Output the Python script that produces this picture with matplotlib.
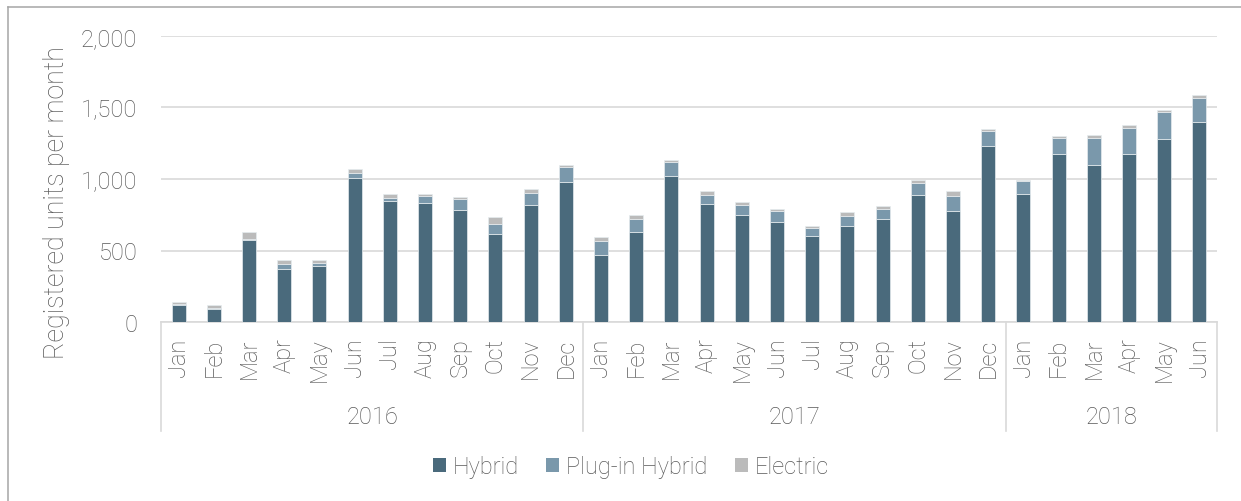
import matplotlib
matplotlib.use("Agg")
import matplotlib.pyplot as plt
from matplotlib.lines import Line2D
from matplotlib.patches import Patch
from matplotlib.transforms import blended_transform_factory
import numpy as np

plt.rcParams['font.family'] = ['Roboto', 'DejaVu Sans']

years = ["2016", "2017", "2018"]
months_per_year = [12, 12, 6]
month_names = ["Jan", "Feb", "Mar", "Apr", "May", "Jun",
               "Jul", "Aug", "Sep", "Oct", "Nov", "Dec"]
months = month_names * 2 + month_names[:6]

hybrid = [120, 93, 573, 373, 391, 1006, 845, 829, 782, 615, 817, 978,
          468, 629, 1022, 827, 745, 698, 601, 671, 719, 889, 775, 1229,
          896, 1173, 1101, 1173, 1280, 1397]
plugin = [8, 8, 9, 32, 21, 35, 23, 49, 77, 69, 86, 105,
          98, 91, 96, 60, 75, 75, 53, 67, 70, 82, 105, 110,
          89, 114, 184, 182, 187, 168]
electric = [10, 18, 47, 28, 21, 28, 26, 14, 14, 47, 24, 18,
            25, 25, 18, 26, 20, 14, 14, 28, 21, 19, 33, 9,
            9, 17, 23, 23, 18, 23]

series_names = ["Hybrid", "Plug-in Hybrid", "Electric"]
colors = ["#4A6A7C", "#7A98AB", "#BBBBBB"]
text_color = "#595959"
grid_color = "#D9D9D9"
fs = 17

W, H = 1241, 502
fig = plt.figure(figsize=(W / 100, H / 100), dpi=100)
ax = fig.add_axes([161 / W, (H - 323) / H, (1217 - 161) / W, (323 - 37) / H])

x = np.arange(len(months))
bottom = np.zeros(len(months))
for vals, c, name in zip([hybrid, plugin, electric], colors, series_names):
    ax.bar(x, vals, width=0.4, bottom=bottom, color=c, edgecolor="#E6ECEF",
           linewidth=0.5, label=name, zorder=3)
    bottom += np.array(vals)

ax.set_xlim(-0.5, len(months) - 0.5)
ax.set_ylim(0, 2000)
ax.set_yticks([0, 500, 1000, 1500, 2000])
ax.set_yticklabels([f"{v:,}" for v in [0, 500, 1000, 1500, 2000]])
ax.yaxis.grid(True, color=grid_color, linewidth=1.2, zorder=0)
ax.set_axisbelow(True)
for s in ["top", "right", "left"]:
    ax.spines[s].set_visible(False)
ax.spines["bottom"].set_color(grid_color)
ax.spines["bottom"].set_linewidth(1.2)
ax.tick_params(axis="y", length=0, pad=17, labelsize=fs, labelcolor=text_color)
ax.set_xticks(x)
ax.set_xticklabels(months, rotation=90, fontsize=fs, color=text_color,
                   fontweight="light", va="top")
for t in ax.get_yticklabels():
    t.set_fontweight("light")
ax.tick_params(axis="x", length=0, pad=11)

# multi-level category separators and year labels
trans = blended_transform_factory(ax.transData, ax.transAxes)
edges = np.concatenate([[0], np.cumsum(months_per_year)]) - 0.5
for e in edges:
    ax.add_line(Line2D([e, e], [0, -0.381], transform=trans, color=grid_color,
                       linewidth=1.2, clip_on=False))
trans_fig = blended_transform_factory(ax.transData, fig.transFigure)
for i, yr in enumerate(years):
    cx = (edges[i] + edges[i + 1]) / 2
    ax.text(cx, (H - 424) / H, yr, transform=trans_fig, ha="center",
            va="baseline", fontsize=fs, color=text_color, fontweight="light")

fig.text(57 / W, 1 - 203 / H, "Registered units per month", rotation=90,
         ha="center", va="center", fontsize=19.3, color=text_color,
         fontweight="light")

handles = [Patch(facecolor=c, edgecolor="none") for c in colors]
leg = fig.legend(handles, series_names, loc="center",
                 bbox_to_anchor=(631 / W, 1 - 468 / H), ncol=3, frameon=False,
                 fontsize=fs, handlelength=0.55, handleheight=0.55,
                 handletextpad=0.3, columnspacing=1.15)
for t in leg.get_texts():
    t.set_color(text_color)
    t.set_fontweight("light")

# outer border (top and left)
fig.add_artist(Line2D([7.5 / W, 1], [1 - 7.5 / H, 1 - 7.5 / H],
                      transform=fig.transFigure, color="#A6A6A6", linewidth=1.1))
fig.add_artist(Line2D([7.5 / W, 7.5 / W], [0, 1 - 7.5 / H],
                      transform=fig.transFigure, color="#A6A6A6", linewidth=1.1))

fig.savefig("out.png", dpi=100, facecolor="white")
